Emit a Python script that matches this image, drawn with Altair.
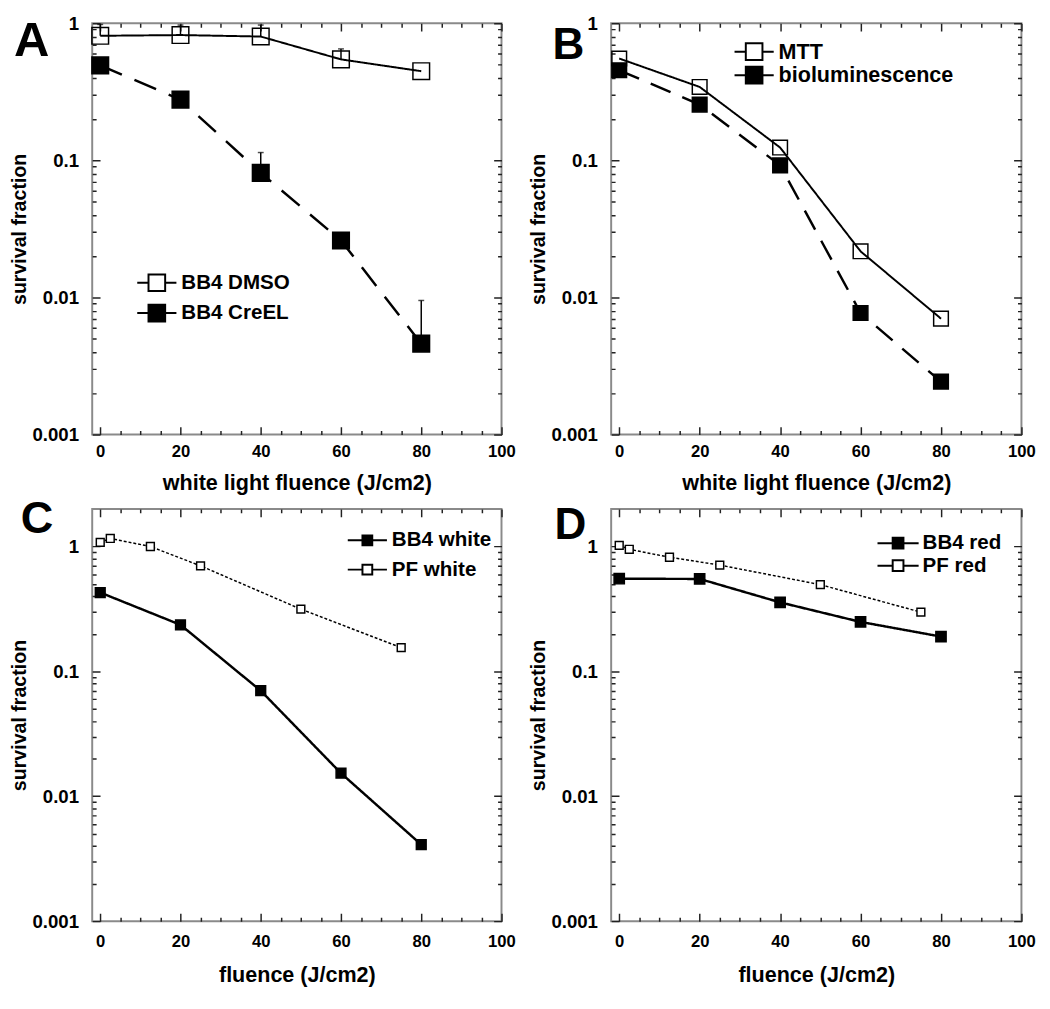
import altair as alt
import pandas as pd

FONT = "Liberation Sans"

# ---------------- axis tick values ----------------
x_ticks = [0, 20, 40, 60, 80, 100]
x_minor = [5, 10, 15, 25, 30, 35, 45, 50, 55, 65, 70, 75, 85, 90, 95]
y_ticks = [0.001, 0.01, 0.1, 1]
y_minor = [0.002, 0.003, 0.004, 0.005, 0.006, 0.007, 0.008, 0.009,
           0.02, 0.03, 0.04, 0.05, 0.06, 0.07, 0.08, 0.09,
           0.2, 0.3, 0.4, 0.5, 0.6, 0.7, 0.8, 0.9]

# ---------------- panel A ----------------
a_series = ["BB4 DMSO", "BB4 CreEL"]
a_x = [0, 20, 40, 60, 80]
a_dmso = [0.81, 0.82, 0.80, 0.545, 0.447]
a_creel = [0.493, 0.277, 0.081, 0.026, 0.0046]
a_err_x = [0, 20, 40, 60, 40, 80]
a_err_lo = [0.81, 0.82, 0.80, 0.545, 0.081, 0.0046]
a_err_hi = [0.98, 0.97, 0.97, 0.65, 0.114, 0.0095]

# ---------------- panel B ----------------
b_series = ["MTT", "bioluminescence"]
b_x = [0, 20, 40, 60, 80]
b_mtt = [0.553, 0.343, 0.124, 0.0217, 0.0070]
b_bio = [0.454, 0.255, 0.092, 0.0077, 0.00243]

# ---------------- panel C ----------------
c_series = ["BB4 white", "PF white"]
c_bb4_x = [0, 20, 40, 60, 80]
c_bb4 = [0.428, 0.236, 0.070, 0.0153, 0.0041]
c_pf_x = [0, 2.5, 12.5, 25, 50, 75]
c_pf = [1.08, 1.16, 1.0, 0.70, 0.315, 0.155]

# ---------------- panel D ----------------
d_series = ["BB4 red", "PF red"]
d_bb4_x = [0, 20, 40, 60, 80]
d_bb4 = [0.552, 0.55, 0.357, 0.249, 0.19]
d_pf_x = [0, 2.5, 12.5, 25, 50, 75]
d_pf = [1.02, 0.95, 0.82, 0.71, 0.495, 0.298]


def frame(series, xs, ys):
    return pd.DataFrame({"series": [series] * len(xs), "x": xs, "y": ys})


TICK = 8
X_MAJOR = "datum.value % 20 === 0"
Y_MAJOR = "indexof([0.001, 0.01, 0.1, 1], datum.value) >= 0"


def tick_dash(test):
    return {"condition": {"test": test, "value": [1, 0]}, "value": [0, TICK - 4, 4]}


def x_axis(primary, title="", lp=9, tp=14):
    kw = dict(orient="bottom" if primary else "top", values=x_ticks + x_minor,
              domain=False, grid=False, offset=-TICK, tickSize=TICK, tickWidth=1.5,
              tickColor="#222222", tickDash=tick_dash(X_MAJOR),
              labelOverlap=False, labelFlush=False)
    if primary:
        kw.update(labelExpr=f"{X_MAJOR} ? datum.label : ''", labelFont=FONT,
                  labelFontSize=17, labelFontWeight="bold", labelColor="black",
                  labelPadding=lp, title=title, titleFont=FONT, titleFontSize=22,
                  titleFontWeight="bold", titleColor="black", titlePadding=tp)
    else:
        kw.update(labels=False, title=None)
    return alt.Axis(**kw)


def y_axis(primary):
    kw = dict(orient="left" if primary else "right", values=y_ticks + y_minor,
              domain=False, grid=False, offset=-TICK, tickSize=TICK, tickWidth=1.5,
              tickColor="#222222", tickDash=tick_dash(Y_MAJOR),
              labelOverlap=False, labelFlush=False)
    if primary:
        kw.update(format="~g", labelExpr=f"{Y_MAJOR} ? datum.label : ''",
                  labelFont=FONT, labelFontSize=19, labelFontWeight="bold",
                  labelColor="black", labelPadding=14, title="survival fraction",
                  titleFont=FONT, titleFontSize=20, titleFontWeight="bold",
                  titleColor="black", titlePadding=3)
    else:
        kw.update(labels=False, title=None)
    return alt.Axis(**kw)


def legend_symbol(half_line, half_sq):
    L, s = half_line, half_sq
    return f"M-{L},0H-{s}M{s},0H{L}M-{s},-{s}H{s}V{s}H-{s}Z"


def make_legend(leg):
    return alt.Legend(title=None, orient="none", legendX=leg["x"], legendY=leg["y"],
                      symbolType=legend_symbol(leg["line"], leg["sq"]),
                      symbolSize=400, symbolStrokeColor="black",
                      symbolStrokeWidth=2, labelFont=FONT,
                      labelFontSize=leg["fs"], labelFontWeight="bold",
                      labelColor="black", labelOffset=14, labelLimit=400,
                      rowPadding=leg["rp"], padding=0)


def panel(letter, lx, ly, lsize, w, h, y_top, x_title, frames, order, fill_range,
          dashes, widths, sizes, leg, errs=None, lp=9, tp=14):
    xs = alt.Scale(domain=[-2, 100], nice=False, zero=False)
    ys = alt.Scale(type="log", domain=[0.001, y_top], nice=False)

    layers = []
    if errs is not None:
        rules = alt.Chart(errs).mark_rule(color="black", strokeWidth=1.5).encode(
            x=alt.X("x:Q", scale=xs, axis=None),
            y=alt.Y("lo:Q", scale=ys, axis=None),
            y2="hi:Q",
        )
        caps = alt.Chart(errs).mark_tick(color="black", orient="horizontal", size=6, thickness=1.5).encode(
            x=alt.X("x:Q", scale=xs, axis=None),
            y=alt.Y("hi:Q", scale=ys, axis=None),
        )
        layers += [rules, caps]

    # one line layer per series (first carries the labelled bottom/left axes)
    for i, df in enumerate(frames):
        layers.append(
            alt.Chart(df).mark_line(color="black", strokeCap="butt",
                                    strokeDash=dashes[i], strokeWidth=widths[i]).encode(
                x=alt.X("x:Q", scale=xs, axis=x_axis(True, x_title, lp, tp) if i == 0 else None),
                y=alt.Y("y:Q", scale=ys, axis=y_axis(True) if i == 0 else None),
            )
        )
    # one marker layer per series (first carries the mirrored top/right axes)
    for i, df in enumerate(frames):
        layers.append(
            alt.Chart(df).mark_square(stroke="black", strokeWidth=1.5, opacity=1,
                                      size=sizes[i]).encode(
                x=alt.X("x:Q", scale=xs, axis=x_axis(False) if i == 0 else None),
                y=alt.Y("y:Q", scale=ys, axis=y_axis(False) if i == 0 else None),
                fill=alt.Fill("series:N", scale=alt.Scale(domain=order, range=fill_range),
                              legend=make_legend(leg)),
            )
        )
    layers.append(
        alt.Chart(pd.DataFrame({"t": [letter]})).mark_text(
            font=FONT, fontSize=lsize, fontWeight="bold", color="black",
            align="left", baseline="alphabetic",
        ).encode(text="t:N", x=alt.value(lx), y=alt.value(ly))
    )
    return alt.layer(*layers).resolve_axis(x="independent", y="independent").properties(
        width=w, height=h)


a_frames = [frame(a_series[0], a_x, a_dmso), frame(a_series[1], a_x, a_creel)]
a_err = pd.DataFrame({"x": a_err_x, "lo": a_err_lo, "hi": a_err_hi})
b_frames = [frame(b_series[0], b_x, b_mtt), frame(b_series[1], b_x, b_bio)]
c_frames = [frame(c_series[0], c_bb4_x, c_bb4), frame(c_series[1], c_pf_x, c_pf)]
d_frames = [frame(d_series[0], d_bb4_x, d_bb4), frame(d_series[1], d_pf_x, d_pf)]

panel_a = panel("A", -80, 33, 50, 418, 420, 1, "white light fluence (J/cm2)", a_frames, a_series,
                ["transparent", "black"], [[1, 0], [24, 14]], [2, 2.5], [289, 289],
                {"x": 55, "y": 254, "line": 2.0, "sq": 0.85, "fs": 21, "rp": 5}, a_err)
panel_b = panel("B", -60, 36, 45, 419, 420, 1, "white light fluence (J/cm2)", b_frames, b_series,
                ["transparent", "black"], [[1, 0], [22, 13]], [2, 2.5], [225, 225],
                {"x": 135, "y": 18, "line": 2.0, "sq": 0.85, "fs": 22, "rp": -10})
panel_c = panel("C", -73, 25, 46, 418, 421, 2, "fluence (J/cm2)", c_frames, c_series,
                ["black", "white"], [[1, 0], [3, 2]], [2.5, 1.5], [100, 64],
                {"x": 270, "y": 21, "line": 2.0, "sq": 0.5, "fs": 21, "rp": 9}, lp=13, tp=16)
panel_d = panel("D", -58, 31, 45, 419, 421, 2, "fluence (J/cm2)", d_frames, d_series,
                ["black", "white"], [[1, 0], [3, 2]], [2.5, 1.5], [110, 64],
                {"x": 282, "y": 24, "line": 2.1, "sq": 0.55, "fs": 21, "rp": 2}, lp=13, tp=16)

indep = dict(fill="independent")

chart = alt.vconcat(
    alt.hconcat(panel_a, panel_b, spacing=10).resolve_scale(**indep),
    alt.hconcat(panel_c, panel_d, spacing=10).resolve_scale(**indep),
    spacing=2,
).resolve_scale(**indep).configure_view(stroke="#8a8a8a", strokeWidth=2).properties(
    padding={"left": 0, "top": -5, "right": 5, "bottom": 5}
)

chart.save("out.html", embed_options={"renderer": "svg", "actions": False})
